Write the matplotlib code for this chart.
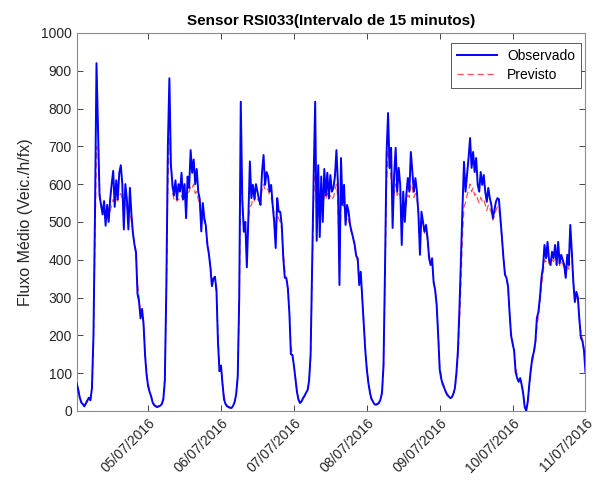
import numpy as np
import pandas as pd
import matplotlib
matplotlib.use('Agg')
from matplotlib import pyplot as plt
import matplotlib.dates as mdates

plt.rcParams['font.family'] = ['Liberation Sans', 'DejaVu Sans']

# valores a cada 30 minutos, um bloco por dia (04/07 00:30 ... 11/07 00:00)
obs_d1 = [72, 55, 35, 22, 18, 12, 20, 28, 35, 28, 60, 200, 520, 920, 740, 570, 545, 520, 555, 490,
          545, 500, 560, 600, 635, 540, 610, 560, 630, 650, 600, 480, 600, 560, 480, 590, 520, 470, 440, 420,
          310, 290, 245, 270, 230, 145, 95, 65]
obs_d2 = [50, 38, 22, 15, 12, 10, 12, 14, 18, 30, 80, 330, 700, 880, 650, 600, 570, 610, 560, 600,
          580, 630, 560, 600, 510, 620, 590, 690, 630, 665, 600, 640, 580, 560, 475, 550, 510, 490, 440, 415,
          380, 330, 350, 355, 320, 180, 105, 120]
obs_d3 = [70, 30, 18, 12, 10, 8, 8, 14, 24, 45, 90, 300, 818, 560, 474, 500, 380, 510, 660, 563,
          598, 560, 600, 580, 560, 545, 632, 677, 598, 632, 620, 580, 598, 545, 500, 431, 563, 527, 527, 492,
          404, 352, 352, 325, 260, 150, 148, 120]
obs_d4 = [85, 50, 30, 21, 25, 34, 40, 48, 55, 80, 150, 380, 620, 818, 450, 650, 460, 620, 500, 640,
          570, 630, 563, 624, 580, 590, 620, 690, 600, 333, 669, 545, 598, 492, 545, 527, 492, 474, 458, 440,
          410, 404, 333, 368, 299, 227, 160, 110]
obs_d5 = [75, 50, 32, 25, 18, 16, 18, 21, 30, 48, 120, 380, 680, 788, 643, 696, 484, 624, 696, 580,
          643, 598, 439, 580, 500, 570, 616, 580, 685, 632, 580, 616, 580, 520, 413, 527, 500, 474, 492, 458,
          404, 386, 404, 340, 320, 280, 200, 110]
obs_d6 = [85, 70, 61, 50, 42, 38, 34, 36, 45, 60, 100, 160, 270, 404, 537, 659, 580, 624, 669, 722,
          643, 685, 632, 669, 600, 580, 632, 598, 624, 580, 553, 590, 563, 545, 510, 530, 553, 563, 560, 510,
          458, 404, 360, 352, 330, 260, 200, 178]
obs_d7 = [160, 103, 87, 77, 87, 69, 45, 10, 0, 25, 70, 110, 140, 156, 183, 246, 262, 300, 352, 380,
          439, 404, 447, 400, 386, 421, 404, 439, 386, 447, 390, 413, 400, 386, 352, 413, 386, 492, 421, 340,
          288, 315, 300, 240, 193, 185, 160, 103]

prev_d1 = [90, 60, 38, 25, 20, 15, 18, 25, 30, 30, 55, 170, 450, 700, 680, 590, 540, 530, 520, 510,
           520, 510, 530, 545, 560, 550, 560, 555, 570, 575, 560, 540, 550, 540, 520, 530, 500, 470, 440, 410,
           340, 300, 260, 255, 220, 160, 105, 72]
prev_d2 = [55, 40, 25, 18, 14, 12, 13, 15, 20, 35, 90, 300, 600, 720, 660, 580, 560, 565, 555, 560,
           560, 570, 555, 565, 560, 575, 580, 595, 590, 600, 575, 580, 560, 545, 510, 520, 500, 480, 450, 420,
           385, 345, 345, 340, 310, 200, 120, 115]
prev_d3 = [75, 40, 22, 15, 12, 10, 10, 15, 25, 45, 95, 280, 620, 560, 500, 480, 420, 500, 540, 545,
           560, 555, 570, 560, 555, 560, 585, 600, 585, 590, 585, 570, 565, 545, 520, 480, 520, 510, 500, 480,
           420, 370, 350, 320, 265, 175, 150, 120]
prev_d4 = [90, 55, 32, 25, 25, 32, 38, 45, 55, 75, 140, 350, 560, 650, 540, 560, 520, 560, 540, 570,
           560, 575, 560, 570, 560, 565, 580, 600, 560, 360, 560, 540, 545, 510, 515, 505, 485, 470, 455, 435,
           410, 395, 350, 350, 300, 235, 170, 115]
prev_d5 = [80, 55, 35, 27, 20, 18, 20, 23, 30, 45, 110, 340, 600, 690, 640, 620, 560, 575, 600, 570,
           580, 570, 520, 545, 530, 550, 570, 565, 600, 590, 565, 575, 560, 530, 460, 500, 490, 470, 475, 450,
           415, 395, 395, 350, 320, 280, 210, 120]
prev_d6 = [95, 75, 65, 52, 45, 40, 36, 38, 45, 58, 90, 140, 230, 340, 460, 540, 550, 570, 585, 600,
           580, 590, 570, 575, 560, 550, 565, 555, 560, 545, 530, 545, 535, 525, 505, 515, 530, 540, 535, 500,
           455, 405, 365, 350, 325, 265, 210, 185]
prev_d7 = [165, 115, 95, 85, 85, 72, 50, 15, 5, 25, 65, 100, 130, 150, 175, 225, 250, 285, 330, 360,
           400, 395, 415, 390, 385, 400, 395, 415, 385, 415, 385, 395, 390, 375, 355, 385, 375, 450, 410, 345,
           300, 305, 290, 245, 205, 190, 165, 120]

observado = np.concatenate([obs_d1, obs_d2, obs_d3, obs_d4, obs_d5, obs_d6, obs_d7])
previsto = np.concatenate([prev_d1, prev_d2, prev_d3, prev_d4, prev_d5, prev_d6, prev_d7])
tempo = pd.date_range('2016-07-04 00:30', periods=len(observado), freq='30min')

fig = plt.figure(figsize=(5.95, 4.84), dpi=100)
ax = fig.add_axes([0.129, 0.151, 0.855, 0.781])

lp, = ax.plot(tempo, previsto, '--', color='#ff5050', lw=0.9, dashes=(5, 3), zorder=2)
lo, = ax.plot(tempo, observado, '-', color='#0000ff', lw=1.4, zorder=3)

ax.set_xlim(tempo[0], pd.Timestamp('2016-07-11 00:00'))
ax.set_ylim(0, 1000)
ax.set_yticks(np.arange(0, 1001, 100))
ax.set_xticks(pd.date_range('2016-07-05', '2016-07-11', freq='D'))
ax.xaxis.set_major_formatter(mdates.DateFormatter('%d/%m/%Y'))
for lab in ax.get_xticklabels():
    lab.set_rotation(45)
    lab.set_ha('right')
    lab.set_rotation_mode('anchor')

ax.tick_params(direction='in', length=4, top=True, right=True, colors='#262626',
               labelsize=10, width=0.6)
for s in ax.spines.values():
    s.set_color('#8c8c8c')
    s.set_linewidth(0.8)

ax.set_ylabel('Fluxo Médio (Veic./h/fx)', fontsize=11.5, color='#262626', labelpad=6)
ax.set_title('Sensor RSI033(Intervalo de 15 minutos)', fontsize=11, fontweight='bold', pad=6)

leg = ax.legend([lo, lp], ['Observado', 'Previsto'], loc='upper right',
                bbox_to_anchor=(0.992, 0.974), borderaxespad=0, fontsize=10,
                handlelength=2.9, handletextpad=0.7, fancybox=False, framealpha=1,
                labelspacing=0.35, borderpad=0.45)
leg.get_frame().set_edgecolor('#404040')
leg.get_frame().set_linewidth(0.6)

fig.savefig('out.png', dpi=100)
